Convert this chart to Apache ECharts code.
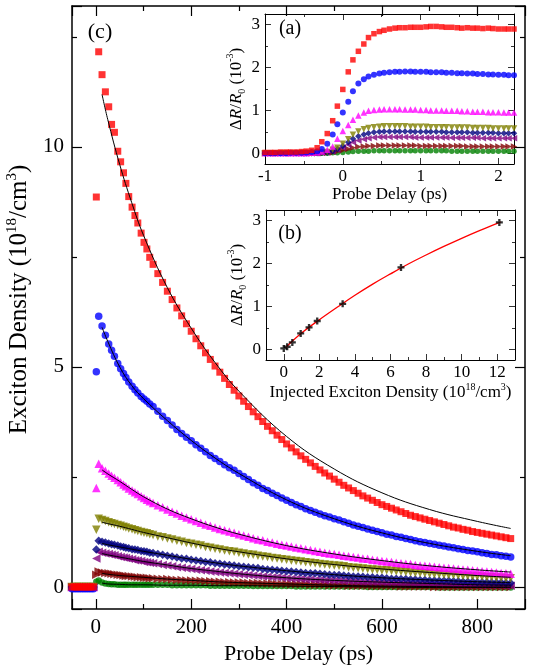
<!DOCTYPE html>
<html><head><meta charset="utf-8">
<script src="https://cdn.jsdelivr.net/npm/echarts@6/dist/echarts.min.js"></script>
<style>html,body{margin:0;padding:0;background:#fff}#c{width:536px;height:668px}</style>
</head><body><div id="c"></div>
<script>
// ---------- main panel (c): exciton density vs probe delay ----------
const delays = [-50,-45,-40,-35,-30,-25,-20,-15,-10,-5,1,6,13,20,27,33,39,46,52,58,63,69,76,82,88,95,101,107,113,120,130,140,150,160,170,180,190,200,210,220,230,240,250,260,270,280,290,300,310,320,330,340,350,360,370,380,390,400,410,420,430,440,450,460,470,480,490,500,510,520,530,540,550,560,570,580,590,600,610,620,630,640,650,660,670,680,690,700,710,720,730,740,750,760,770,780,790,800,810,820,830,840,850,860,870];
const preZero = [0,0,0,0,0,0,0,0,0,0];
const redVals = [8.86,12.16,11.64,11.25,10.91,10.51,10.33,9.90,9.66,9.41,9.17,8.87,8.63,8.44,8.27,8.04,7.83,7.68,7.49,
 7.33,7.12,6.92,6.72,6.53,6.34,6.16,5.98,5.81,5.64, 5.48,5.32,5.17,5.02,4.88,4.74,4.60,4.47,4.34,4.22,
 4.10,3.98,3.87,3.76,3.65,3.55,3.45,3.35,3.25,3.16, 3.07,2.98,2.90,2.82,2.74,2.66,2.59,2.52,2.45,2.38,
 2.31,2.25,2.19,2.13,2.07,2.02,1.97,1.92,1.87,1.83, 1.79,1.75,1.71,1.67,1.63,1.60,1.57,1.54,1.51,1.48,
 1.45,1.42,1.39,1.36,1.34,1.31,1.29,1.26,1.24,1.22, 1.20,1.18,1.16,1.14,1.12,1.10];
const blueVals = [4.89,6.15,5.93,5.72,5.52,5.38,5.24,5.08,4.96,4.85,4.76,4.66,4.56,4.48,4.41,4.33,4.27,4.22,4.16,
 4.10,3.99,3.88,3.78,3.68,3.58,3.49,3.40,3.32,3.23, 3.15,3.07,2.99,2.92,2.85,2.78,2.71,2.65,2.58,2.51,
 2.44,2.37,2.31,2.24,2.19,2.13,2.08,2.02,1.97,1.92, 1.87,1.83,1.78,1.74,1.70,1.66,1.62,1.59,1.55,1.52,
 1.48,1.45,1.41,1.38,1.35,1.32,1.29,1.26,1.23,1.20, 1.18,1.15,1.13,1.10,1.08,1.05,1.03,1.01,0.99,0.97,
 0.95,0.93,0.91,0.89,0.87,0.85,0.83,0.82,0.80,0.78, 0.76,0.74,0.73,0.71,0.70,0.68];
const magentaVals = [2.25,2.80,2.70,2.64,2.58,2.53,2.48,2.43,2.38,2.33,2.29,2.24,2.19,2.15,2.11,2.06,2.02,1.98,1.95,
 1.91,1.86,1.81,1.76,1.71,1.67,1.62,1.58,1.54,1.50, 1.46,1.42,1.39,1.35,1.32,1.29,1.26,1.23,1.20,1.17,
 1.14,1.11,1.08,1.06,1.03,1.01,0.98,0.96,0.94,0.92, 0.90,0.88,0.86,0.84,0.82,0.80,0.78,0.76,0.75,0.73,
 0.71,0.70,0.68,0.67,0.65,0.64,0.62,0.61,0.59,0.58, 0.57,0.55,0.54,0.53,0.52,0.50,0.49,0.48,0.47,0.46,
 0.45,0.44,0.43,0.42,0.41,0.40,0.39,0.38,0.37,0.36, 0.35,0.34,0.33,0.32,0.31,0.30];
const oliveVals = [1.30,1.55,1.52,1.50,1.47,1.45,1.43,1.41,1.39,1.37,1.35,1.33,1.31,1.29,1.27,1.25,1.23,1.22,1.20,
 1.18,1.15,1.13,1.10,1.08,1.05,1.03,1.00,0.98,0.96, 0.94,0.91,0.89,0.87,0.85,0.83,0.81,0.80,0.78,0.76,
 0.74,0.73,0.71,0.69,0.68,0.66,0.65,0.63,0.62,0.60, 0.59,0.58,0.56,0.55,0.54,0.52,0.51,0.50,0.49,0.48,
 0.47,0.45,0.44,0.43,0.42,0.41,0.40,0.39,0.38,0.38, 0.37,0.36,0.35,0.34,0.33,0.32,0.32,0.31,0.30,0.29,
 0.29,0.28,0.27,0.27,0.26,0.25,0.25,0.24,0.24,0.23, 0.22,0.22,0.21,0.21,0.20,0.20];
const navyVals = [0.85,1.05,1.03,1.01,0.99,0.97,0.96,0.94,0.92,0.91,0.89,0.88,0.86,0.85,0.84,0.82,0.81,0.80,0.78,
 0.77,0.75,0.73,0.71,0.69,0.67,0.65,0.64,0.62,0.60, 0.59,0.57,0.56,0.54,0.53,0.51,0.50,0.49,0.47,0.46,
 0.45,0.44,0.43,0.41,0.40,0.39,0.38,0.37,0.36,0.35, 0.34,0.33,0.32,0.31,0.31,0.30,0.29,0.28,0.27,0.27,
 0.26,0.25,0.24,0.24,0.23,0.22,0.22,0.21,0.21,0.20, 0.19,0.19,0.18,0.18,0.17,0.17,0.16,0.16,0.15,0.15,
 0.14,0.14,0.14,0.13,0.13,0.12,0.12,0.12,0.11,0.11, 0.11,0.10,0.10,0.10,0.09,0.09];
const purpleVals = [0.65,0.80,0.78,0.76,0.75,0.73,0.72,0.70,0.68,0.67,0.66,0.64,0.63,0.61,0.60,0.59,0.57,0.56,0.55,
 0.54,0.52,0.50,0.49,0.47,0.45,0.44,0.42,0.41,0.39, 0.38,0.37,0.35,0.34,0.33,0.32,0.31,0.30,0.29,0.28,
 0.27,0.26,0.25,0.24,0.23,0.22,0.22,0.21,0.20,0.19, 0.19,0.18,0.17,0.17,0.16,0.16,0.15,0.15,0.14,0.14,
 0.13,0.13,0.12,0.12,0.11,0.11,0.11,0.10,0.10,0.09, 0.09,0.09,0.08,0.08,0.08,0.07,0.07,0.07,0.07,0.06,
 0.06,0.06,0.06,0.05,0.05,0.05,0.05,0.05,0.04,0.04, 0.04,0.04,0.04,0.04,0.03,0.03];
const maroonVals = [0.28,0.35,0.33,0.32,0.31,0.30,0.29,0.28,0.27,0.26,0.25,0.25,0.24,0.23,0.22,0.22,0.21,0.21,0.20,
 0.20,0.19,0.18,0.18,0.17,0.16,0.16,0.15,0.15,0.14, 0.14,0.13,0.13,0.12,0.12,0.11,0.11,0.10,0.10,0.10,
 0.09,0.09,0.09,0.08,0.08,0.08,0.07,0.07,0.07,0.06, 0.06,0.06,0.06,0.05,0.05,0.05,0.05,0.04,0.04,0.04,
 0.04,0.03,0.03,0.03,0.03,0.03,0.02,0.02,0.02,0.02, 0.02,0.02,0.01,0.01,0.01,0.01,0.01,0.01,0.01,0.00,
 0.00,0.00,0.00,0.00,0.00,0.00,0.00,0.00,0.00,0.00, 0.00,0.00,0.00,0.00,0.00,0.00];
const greenVals = [0.12,0.15,0.10,0.08,0.07,0.06,0.06,0.05,0.05,0.05,0.05,0.05,0.05,0.05,0.05,0.05,0.05,0.05,0.05,
 0.05,0.05,0.05,0.05,0.04,0.04,0.04,0.04,0.04,0.04, 0.04,0.04,0.03,0.03,0.03,0.03,0.03,0.03,0.03,0.03,
 0.03,0.02,0.02,0.02,0.02,0.02,0.02,0.02,0.02,0.02, 0.01,0.01,0.01,0.01,0.01,0.01,0.01,0.01,0.01,0.01,
 0.01,0.01,0.01,0.01,0.01,0.00,0.00,0.00,0.00,0.00, 0.00,0.00,0.00,0.00,0.00,0.00,0.00,0.00,0.00,0.00,
 -0.01,-0.01,-0.01,-0.01,-0.01,-0.01,-0.01,-0.01,-0.01,-0.01, -0.01,-0.01,-0.01,-0.01,-0.01,-0.01];

// fit curves (black lines)
const fitT = [13,25,50,75,100,150,200,250,300,400,500,600,700,800,870];
const fitRed = [11.19,10.62,9.60,8.74,7.99,6.80,5.88,5.10,4.45,3.42,2.68,2.14,1.76,1.49,1.33];
const fitBlue = [5.90,5.58,5.00,4.58,4.28,3.78,3.33,2.93,2.58,1.98,1.55,1.23,0.99,0.81,0.71];
const fitMagenta = [2.66,2.57,2.40,2.22,2.05,1.77,1.55,1.36,1.20,0.94,0.75,0.60,0.48,0.39,0.34];
const fitOlive = [1.47,1.44,1.38,1.31,1.24,1.12,1.00,0.89,0.80,0.64,0.51,0.41,0.33,0.26,0.22];
const fitNavy = [0.99,0.96,0.91,0.86,0.81,0.72,0.63,0.55,0.48,0.37,0.28,0.21,0.16,0.12,0.10];
const fitPurple = [0.76,0.73,0.68,0.63,0.58,0.50,0.42,0.36,0.30,0.21,0.15,0.11,0.08,0.05,0.04];
const fitMaroon = [0.31,0.29,0.26,0.24,0.22,0.18,0.15,0.12,0.10,0.07,0.04,0.02,0.01,0.00,0.00];
const fitGreen = [0.09,0.07,0.06,0.05,0.05,0.04,0.04,0.03,0.03,0.02,0.01,0.00,-0.01,-0.01,-0.01];

// ---------- inset (a): dR/R0 vs probe delay (ps) ----------
const delaysA = [-1.00,-0.93,-0.87,-0.80,-0.73,-0.67,-0.60,-0.53,-0.47,-0.40,-0.33,-0.27,-0.20,-0.13,-0.07,0.00,0.07,0.13,0.20,0.27,0.33,0.40,0.47,0.53,0.60,0.67,0.73,0.80,0.87,0.93,1.00,1.07,1.13,1.20,1.27,1.33,1.40,1.47,1.53,1.60,1.67,1.73,1.80,1.87,1.93,2.00,2.07,2.13,2.20];
const zerosA = [0,0,0,0,0,0,0,0,0];
const aRed = [0.02,0.02,0.02,0.03,0.03,0.03,0.03,0.04,0.05,0.07,0.13,0.27,0.46,0.76,1.10,1.49,1.90,2.18,2.38,2.55,2.70,2.79,2.84,2.87,2.90,2.92,2.93,2.93,2.94,2.94,2.94,2.95,2.96,2.96,2.95,2.94,2.94,2.93,2.92,2.93,2.92,2.92,2.91,2.92,2.91,2.90,2.90,2.90,2.90];
const aBlue = [0.00,0.00,0.00,0.00,0.00,0.01,0.01,0.01,0.02,0.03,0.05,0.10,0.22,0.44,0.68,0.95,1.20,1.45,1.63,1.73,1.79,1.83,1.86,1.88,1.89,1.90,1.90,1.91,1.91,1.90,1.90,1.90,1.89,1.89,1.89,1.88,1.88,1.87,1.87,1.86,1.86,1.85,1.85,1.84,1.84,1.83,1.83,1.82,1.82];
const aMagenta = [0.01,0.02,0.04,0.08,0.16,0.34,0.52,0.66,0.78,0.88,0.95,0.99,1.01,1.02,1.03,1.03,1.03,1.03,1.02,1.02,1.02,1.01,1.01,1.00,1.00,1.00,0.99,0.99,0.99,0.98,0.98,0.97,0.97,0.97,0.96,0.96,0.96,0.95,0.95,0.95];
const aOlive = [0.00,0.01,0.02,0.03,0.08,0.13,0.22,0.33,0.43,0.51,0.56,0.59,0.61,0.62,0.63,0.63,0.63,0.63,0.63,0.62,0.62,0.62,0.62,0.61,0.61,0.61,0.61,0.60,0.60,0.60,0.60,0.59,0.59,0.59,0.59,0.58,0.58,0.58,0.58,0.58];
const aNavy = [0.00,0.00,0.01,0.02,0.05,0.10,0.17,0.26,0.34,0.40,0.44,0.47,0.49,0.50,0.51,0.51,0.51,0.51,0.51,0.51,0.50,0.50,0.50,0.50,0.50,0.50,0.49,0.49,0.49,0.49,0.49,0.48,0.48,0.48,0.48,0.48,0.47,0.47,0.47,0.47];
const aPurple = [0.00,0.00,0.01,0.02,0.04,0.08,0.13,0.20,0.26,0.30,0.33,0.35,0.37,0.38,0.38,0.38,0.38,0.38,0.38,0.38,0.37,0.37,0.37,0.37,0.37,0.37,0.37,0.36,0.36,0.36,0.36,0.36,0.36,0.35,0.35,0.35,0.35,0.35,0.35,0.35];
const aMaroon = [0.00,0.00,0.00,0.01,0.02,0.04,0.07,0.10,0.13,0.15,0.16,0.17,0.17,0.18,0.18,0.18,0.18,0.18,0.18,0.18,0.18,0.17,0.17,0.17,0.17,0.17,0.17,0.17,0.17,0.17,0.16,0.16,0.16,0.16,0.16,0.16,0.16,0.16,0.16,0.16];
const aGreen = [0.00,0.00,0.00,0.00,0.01,0.01,0.02,0.03,0.04,0.05,0.05,0.05,0.06,0.06,0.06,0.06,0.06,0.06,0.06,0.06,0.06,0.06,0.06,0.06,0.06,0.06,0.06,0.05,0.05,0.05,0.05,0.05,0.05,0.05,0.05,0.05,0.05,0.05,0.05,0.05];

// ---------- inset (b): dR/R0 vs injected exciton density ----------
const injDensity = [0.00,0.19,0.48,0.95,1.42,1.88,3.31,6.59,12.12];
const injSignal = [0.02,0.06,0.16,0.37,0.51,0.66,1.06,1.91,2.96];
const injFitX = [0.15,1,2,3,4,5,6,7,8,9,10,11,12,12.2];
const injFitY = [0.06,0.38,0.69,0.98,1.26,1.52,1.76,1.99,2.20,2.40,2.59,2.77,2.94,2.97];

// ---------- chart ----------
const FONT = '"Liberation Serif", "Times New Roman", serif';
const pairs = (xs, ys) => xs.map((x, i) => [x, ys[i]]);

const styles = [
  {key:'green',   main: greenVals,   fit: fitGreen,   a: aGreen,   color:'#008000', symbol:'circle',   size:6.5, asize:5.5, rot:0},
  {key:'maroon',  main: maroonVals,  fit: fitMaroon,  a: aMaroon,  color:'#800000', symbol:'triangle', size:8.5, asize:6.5, rot:-90},
  {key:'purple',  main: purpleVals,  fit: fitPurple,  a: aPurple,  color:'#800080', symbol:'triangle', size:8.5, asize:6.5, rot:90},
  {key:'navy',    main: navyVals,    fit: fitNavy,    a: aNavy,    color:'#000080', symbol:'diamond',  size:8.5, asize:6.5, rot:0},
  {key:'olive',   main: oliveVals,   fit: fitOlive,   a: aOlive,   color:'#808000', symbol:'triangle', size:8.5, asize:6.5, rot:180},
  {key:'magenta', main: magentaVals, fit: fitMagenta, a: aMagenta, color:'#ff00ff', symbol:'triangle', size:8.5, asize:6.5, rot:0},
  {key:'blue',    main: blueVals,    fit: fitBlue,    a: aBlue,    color:'#0000ff', symbol:'circle',   size:7.5, asize:6, rot:0},
  {key:'red',     main: redVals,     fit: fitRed,     a: aRed,     color:'#ff0000', symbol:'rect',     size:7, asize:5.5, rot:0}
];

const series = [];
styles.forEach((s, k) => {
  const pre = s.key === 'blue' ? preZero.map(v => v - 0.04) : preZero;
  series.push({
    type:'scatter', xAxisIndex:0, yAxisIndex:0, z: 2 + k*0.01,
    data: pairs(delays, pre.concat(s.main)),
    symbol: s.symbol, symbolSize: s.size, symbolRotate: s.rot,
    itemStyle:{color:s.color}
  });
});
styles.forEach(s => {
  series.push({
    type:'line', xAxisIndex:0, yAxisIndex:0, z:5, smooth:0.4, showSymbol:false, symbol:'none',
    data: pairs(fitT, s.fit), lineStyle:{color:'#000', width:1}
  });
});
styles.forEach((s, k) => {
  const vals = s.a.length === delaysA.length ? s.a : zerosA.concat(s.a);
  series.push({
    type:'scatter', xAxisIndex:2, yAxisIndex:2, z: 6 + k*0.01,
    data: pairs(delaysA, vals),
    symbol: s.symbol, symbolSize: s.asize, symbolRotate: s.rot,
    itemStyle:{color:s.color}
  });
});
series.push({
  type:'line', xAxisIndex:4, yAxisIndex:4, z:6, smooth:0.4, showSymbol:false, symbol:'none',
  data: pairs(injFitX, injFitY), lineStyle:{color:'#ff0000', width:1.3}
});
series.push({
  type:'scatter', xAxisIndex:4, yAxisIndex:4, z:7,
  data: pairs(injDensity, injSignal),
  symbol:'path://M2,0H4V2H6V4H4V6H2V4H0V2H2Z', symbolSize:7,
  itemStyle:{color:'#000'}
});

function valAxis(o) {
  const base = {
    type:'value', gridIndex:o.grid, position:o.pos, min:o.min, max:o.max,
    minInterval:o.step, maxInterval:o.step, splitNumber: o.split || 5, scale:true,
    axisLine:{show:true, onZero:false, lineStyle:{color:'#000', width:o.lw}},
    axisTick:{show:true, inside:true, length:o.tl, lineStyle:{color:'#000', width:o.lw*0.8}},
    minorTick:{show:true, splitNumber:2, length:o.tl/2, lineStyle:{color:'#000', width:o.lw*0.8}},
    splitLine:{show:false}, minorSplitLine:{show:false},
    axisLabel:{show:!!o.labels, showMinLabel:o.showMin||false, showMaxLabel:false, margin:o.margin,
      fontFamily:FONT, fontSize:o.fs, color:'#000'}
  };
  if (o.name) {
    base.name = o.name; base.nameLocation = 'middle'; base.nameGap = o.gap;
    base.nameTextStyle = {fontFamily:FONT, fontSize:o.nfs, color:'#000', rich:o.rich, padding:o.npad || 0};
  }
  return base;
}
const richMain = {
  t:{fontFamily:FONT, fontSize:25, lineHeight:31, color:'#000'},
  s:{fontFamily:FONT, fontSize:15, lineHeight:15, verticalAlign:'top', color:'#000'}
};
const richInset = {
  t:{fontFamily:FONT, fontSize:17, lineHeight:22, color:'#000'},
  i:{fontFamily:FONT, fontSize:17, lineHeight:22, fontStyle:'italic', color:'#000'},
  s:{fontFamily:FONT, fontSize:10, lineHeight:10, verticalAlign:'top', color:'#000'},
  b:{fontFamily:FONT, fontSize:10, lineHeight:10, verticalAlign:'bottom', color:'#000'}
};
const dRname = '{t|\u0394}{i|R}{t|/}{i|R}{b|0}{t| (10}{s|-3}{t|)}';

const option = {
  animation:false,
  backgroundColor:'#fff',
  grid:[
    {left:72, top:6, width:453, height:603, outerBoundsMode:'none'},
    {left:265, top:14, width:249, height:150, show:true, backgroundColor:'#fff', borderWidth:0, outerBoundsMode:'none'},
    {left:266, top:210, width:249, height:150, show:true, backgroundColor:'#fff', borderWidth:0, outerBoundsMode:'none'}
  ],
  xAxis:[
    valAxis({grid:0,pos:'bottom',min:-50,max:900,step:200,lw:1.5,tl:10,labels:true,margin:8,fs:21,
      name:'Probe Delay (ps)',gap:31,nfs:22}),
    valAxis({grid:0,pos:'top',min:-50,max:900,step:200,lw:1.5,tl:10}),
    valAxis({grid:1,pos:'bottom',min:-1,max:2.2,step:1,lw:1,tl:6,labels:true,showMin:true,margin:4,fs:17,
      name:'Probe Delay (ps)',gap:18,nfs:17}),
    valAxis({grid:1,pos:'top',min:-1,max:2.2,step:1,lw:1,tl:6}),
    valAxis({grid:2,pos:'bottom',min:-1,max:13,step:2,lw:1,tl:6,labels:true,margin:4,fs:17,
      name:'{t|Injected Exciton Density (10}{s|18}{t|/cm}{s|3}{t|)}',gap:19,nfs:17,rich:richInset}),
    valAxis({grid:2,pos:'top',min:-1,max:13,step:2,lw:1,tl:6})
  ],
  yAxis:[
    valAxis({grid:0,pos:'left',min:-0.5,max:13.2,step:5,lw:1.5,tl:10,labels:true,margin:8,fs:21,
      name:'{t|Exciton Density (10}{s|18}{t|/cm}{s|3}{t|)}',gap:23,nfs:25,rich:richMain,npad:[0,0,0,16]}),
    valAxis({grid:0,pos:'right',min:-0.5,max:13.2,step:5,lw:1.5,tl:10}),
    valAxis({grid:1,pos:'left',min:-0.25,max:3.25,step:1,lw:1,tl:6,labels:true,margin:5,fs:17,
      name:dRname,gap:15,nfs:17,rich:richInset}),
    valAxis({grid:1,pos:'right',min:-0.25,max:3.25,step:1,lw:1,tl:6}),
    valAxis({grid:2,pos:'left',min:-0.25,max:3.25,step:1,lw:1,tl:6,labels:true,margin:5,fs:17,
      name:dRname,gap:15,nfs:17,rich:richInset}),
    valAxis({grid:2,pos:'right',min:-0.25,max:3.25,step:1,lw:1,tl:6})
  ],
  graphic:[
    {type:'text', x:100, y:32, z:100, style:{text:'(c)', font:'22px '+FONT, fill:'#000', align:'center', verticalAlign:'middle'}},
    {type:'text', x:290, y:29, z:100, style:{text:'(a)', font:'20px '+FONT, fill:'#000', align:'center', verticalAlign:'middle'}},
    {type:'text', x:290, y:234, z:100, style:{text:'(b)', font:'20px '+FONT, fill:'#000', align:'center', verticalAlign:'middle'}}
  ],
  series: series
};
const chart = echarts.init(document.getElementById('c'), null, {renderer:'canvas'});
chart.setOption(option);
</script></body></html>
